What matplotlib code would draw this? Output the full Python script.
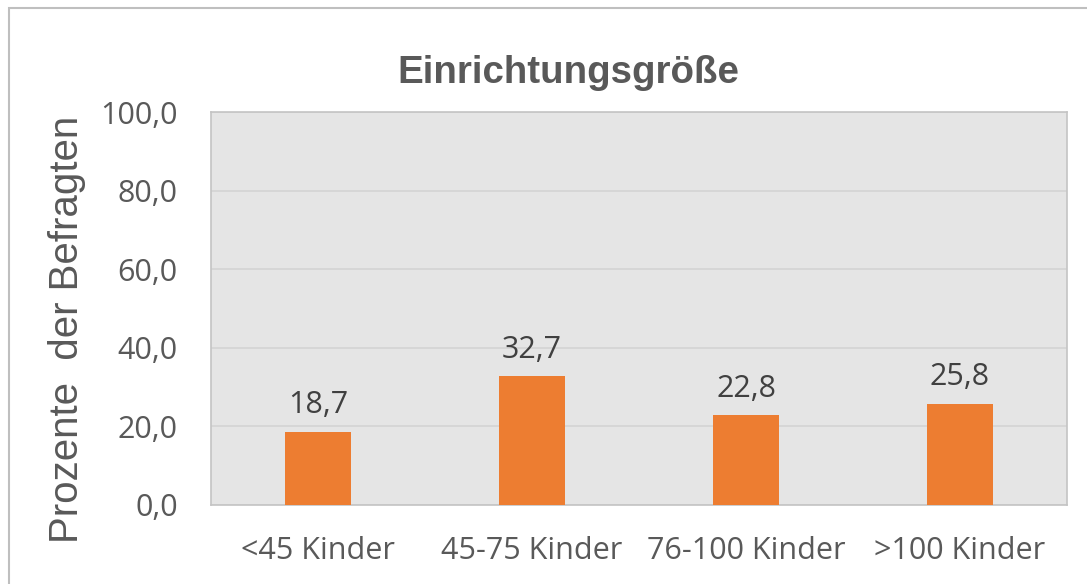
import matplotlib.pyplot as plt
from matplotlib.patches import Rectangle

categories = ['<45 Kinder', '45-75 Kinder', '76-100 Kinder', '>100 Kinder']
values = [18.7, 32.7, 22.8, 25.8]
yticks = [0, 20, 40, 60, 80, 100]

txt_color = '#595959'
bar_color = '#ED7D31'

fig = plt.figure(figsize=(10.87, 5.84), dpi=100)
ax = fig.add_axes([211 / 1087, 79 / 584, 856 / 1087, 393 / 584])
ax.set_facecolor('#e5e5e5')

x = range(len(categories))
bars = ax.bar(x, values, width=0.31, color=bar_color, zorder=3)

for b, v in zip(bars, values):
    ax.text(b.get_x() + b.get_width() / 2, v + 3, f'{v:.1f}'.replace('.', ','),
            ha='center', va='bottom', fontsize=22, family='Open Sans', color='#404040')

ax.set_xlim(-0.5, len(categories) - 0.5)
ax.set_ylim(0, 100)
ax.set_yticks(yticks)
ax.set_yticklabels([f'{t:.1f}'.replace('.', ',') for t in yticks],
                   fontsize=22, family='Open Sans', color=txt_color)
ax.set_xticks(list(x))
ax.set_xticklabels(categories, fontsize=22, family='Open Sans', color=txt_color)
ax.tick_params(axis='both', length=0)
ax.tick_params(axis='y', pad=24)
ax.tick_params(axis='x', pad=22)
ax.grid(axis='y', color='#d4d4d4', linewidth=1.2, zorder=0)

for s in ax.spines.values():
    s.set_color('#c4c4c4')
    s.set_linewidth(1.2)

fig.text(568 / 1087, 1 - 73 / 584, 'Einrichtungsgröße', ha='center', va='center',
         fontsize=27.7, fontweight='bold', family='Liberation Sans', color=txt_color)
fig.text(67 / 1087, 1 - 329 / 584, 'Prozente  der Befragten', rotation=90,
         ha='center', va='center', fontsize=29, family='Liberation Sans', color=txt_color)

# outer chart frame (cut off at right and bottom)
fig.add_artist(Rectangle((9 / 1087, -0.1), 1.2, 1 - 8 / 584 + 0.1, transform=fig.transFigure,
                         fill=False, edgecolor='#bfbfbf', linewidth=1.5))

fig.savefig('out.png', dpi=100)
